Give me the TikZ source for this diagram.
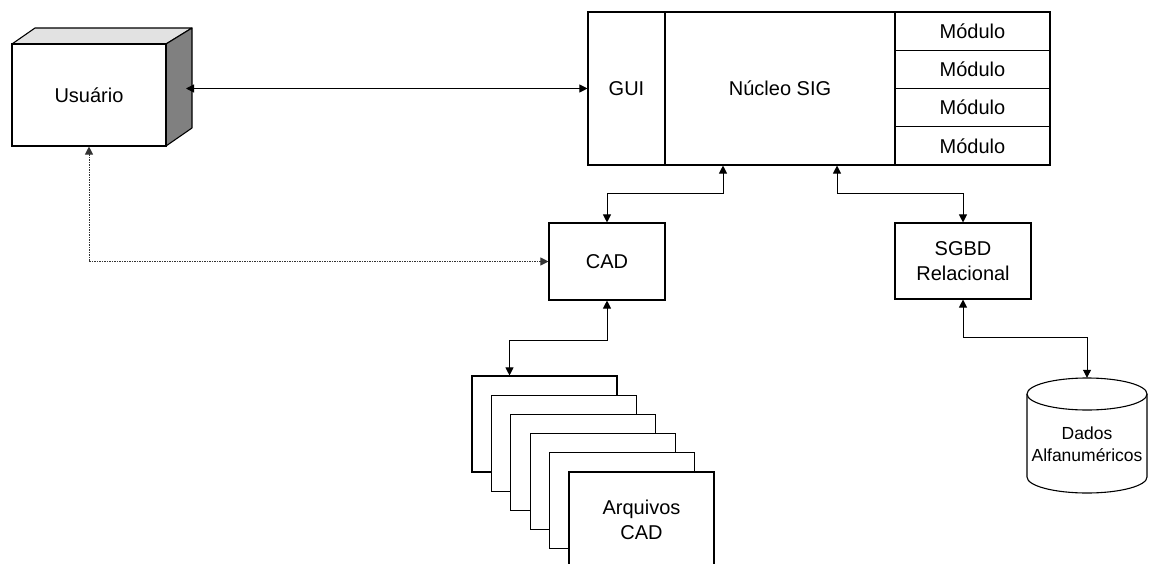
\documentclass[tikz,border=0pt]{standalone}
\usepackage{fontspec}
\setmainfont{Liberation Sans}
\usetikzlibrary{arrows.meta,calc}
\definecolor{sidegray}{RGB}{128,128,128}
\definecolor{topgray}{RGB}{226,226,226}
\tikzset{
  box/.style={draw, line width=1.1pt, fill=white, inner sep=0pt, align=center,
    font=\fontsize{20}{24.5}\selectfont},
  link/.style={line width=1pt, {Triangle[length=8pt,width=8pt]}-{Triangle[length=8pt,width=8pt]}},
  dotlink/.style={link, draw=black!80, dash pattern=on 1.5pt off 1pt},
  face/.style={draw, line width=1.1pt, line join=round}
}
\begin{document}
\begin{tikzpicture}[x=1pt,y=-1pt]
\useasboundingbox (0,0) rectangle (1155,564);
\clip (0,0) rectangle (1155,564);
% Usuario 3D box
\draw[face, fill=topgray] (12,44) -- (35,28) -- (192,28) -- (166,44) -- cycle;
\draw[face, fill=sidegray] (166,44) -- (192,28) -- (192,128) -- (166,146) -- cycle;
\node[box, minimum width=154pt, minimum height=102pt] (usr) at (89,95) {Usuário};
\coordinate (usrR) at (186,88.5);
% GIS core
\node[box, minimum width=77pt, minimum height=153pt] (gui) at (626.5,88.5) {GUI};
\node[box, minimum width=230pt, minimum height=153pt] (nucleo) at (780,88.5) {Núcleo SIG};
\node[box, minimum width=155pt, minimum height=38.25pt] (m1) at (972.5,31.125) {Módulo};
\node[box, minimum width=155pt, minimum height=38.25pt] (m2) at (972.5,69.375) {Módulo};
\node[box, minimum width=155pt, minimum height=38.25pt] (m3) at (972.5,107.625) {Módulo};
\node[box, minimum width=155pt, minimum height=38.25pt] (m4) at (972.5,145.875) {Módulo};
% CAD and SGBD
\node[box, minimum width=116pt, minimum height=77pt] (cad) at (607,261.5) {CAD};
\node[box, minimum width=136pt, minimum height=76pt] (sgbd) at (963,261) {SGBD\\Relacional};
% file stack
\foreach \k in {0,...,4}{
  \node[box, minimum width=145pt, minimum height=96pt] (f\k) at ({544.5+19.4*\k},{424+19.2*\k}) {};
}
\node[box, minimum width=145pt, minimum height=96pt] (f5) at (641.5,520) {Arquivos\\CAD};
% database cylinder
\draw[line width=1.1pt, fill=white] (1027,394) -- (1027,477)
  arc[start angle=180, end angle=0, x radius=60, y radius=16] -- (1147,394);
\draw[line width=1.1pt, fill=white] (1087,394) ellipse [x radius=60, y radius=16];
\node[align=center, inner sep=0pt, minimum width=120pt, minimum height=132pt,
  font=\fontsize{17.5}{22.5}\selectfont] (db) at (1087,444) {Dados\\Alfanuméricos};
% connectors
\draw[link] (usrR) -- (gui.west);
\draw[link] ([xshift=-57pt]nucleo.south) -- ++(0,28) -| (cad.north);
\draw[link] ([xshift=57pt]nucleo.south) -- ++(0,28) -| (sgbd.north);
\draw[dotlink] (usr.south) |- (cad.west);
\draw[link] (cad.south) -- ++(0,40) -| ([xshift=-35pt]f0.north);
\draw[link] (sgbd.south) -- ++(0,38) -| (db.north);
\end{tikzpicture}
\end{document}
